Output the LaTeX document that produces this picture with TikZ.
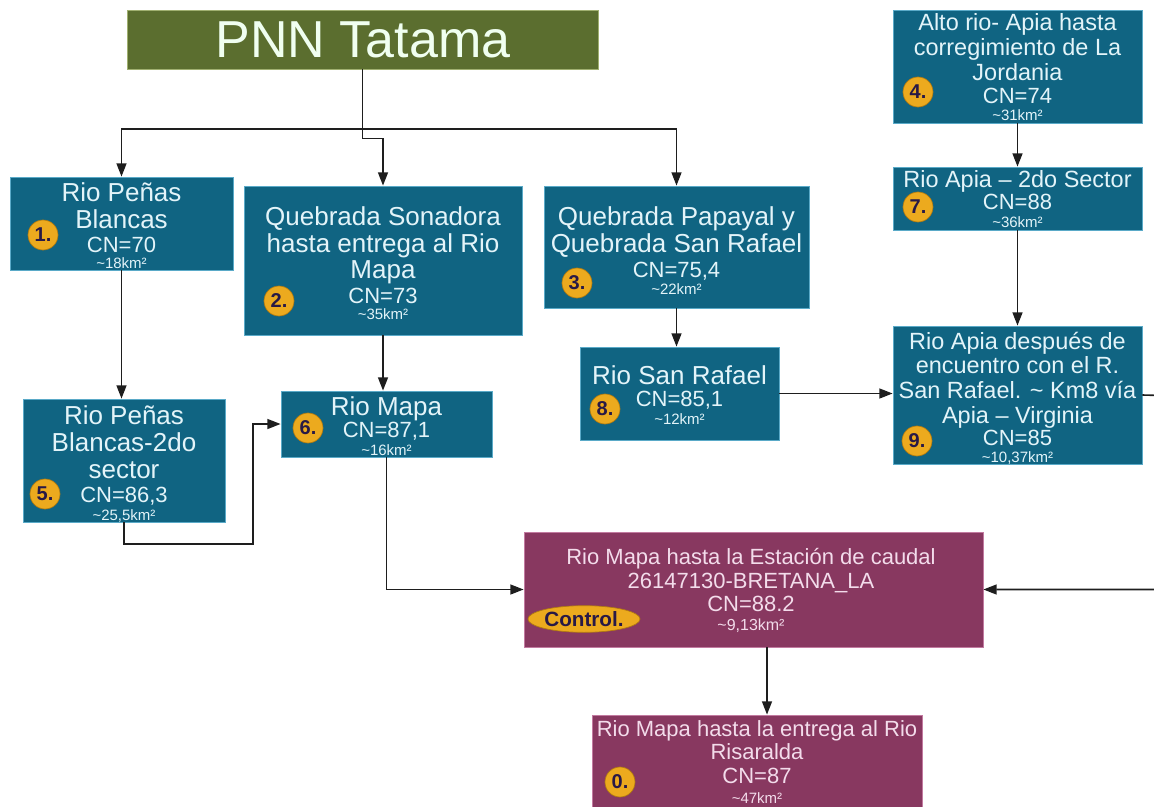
\documentclass[tikz,border=0pt]{standalone}
\usepackage{fontspec}
\setmainfont{Liberation Sans}
\usetikzlibrary{arrows.meta,calc,fit,shapes.geometric}
\definecolor{boxblue}{HTML}{106482}
\definecolor{boxblueedge}{HTML}{5AAAC8}
\definecolor{boxmaroon}{HTML}{883860}
\definecolor{boxmaroonedge}{HTML}{C27AA0}
\definecolor{titlegreen}{HTML}{5B6E2F}
\definecolor{titleedge}{HTML}{A0B070}
\definecolor{badgegold}{HTML}{ECAA1E}
\definecolor{badgeedge}{HTML}{B07A10}
\definecolor{badgetext}{HTML}{281946}
\definecolor{bluetext}{HTML}{E3F4F9}
\definecolor{maroontext}{HTML}{F3DCEB}
\definecolor{linecol}{HTML}{1E1E1E}
\begin{document}
\begin{tikzpicture}[x=0.75pt,y=-0.75pt,
  bluebox/.style={fill=boxblue,draw=boxblueedge,line width=0.6pt,inner sep=0pt},
  redbox/.style={fill=boxmaroon,draw=boxmaroonedge,line width=0.6pt,inner sep=0pt},
  titlebox/.style={fill=titlegreen,draw=titleedge,line width=0.6pt,inner sep=0pt},
  tA/.style={font=\fontsize{19.5pt}{20pt}\selectfont,text=bluetext,anchor=base,yshift=-7pt,inner sep=0pt},
  tB/.style={font=\fontsize{17.6pt}{18pt}\selectfont,text=bluetext,anchor=base,yshift=-6.3pt,inner sep=0pt},
  tC/.style={font=\fontsize{16.5pt}{17pt}\selectfont,text=bluetext,anchor=base,yshift=-5.9pt,inner sep=0pt},
  tK/.style={font=\fontsize{11.25pt}{12pt}\selectfont,text=bluetext,anchor=base,yshift=-4pt,inner sep=0pt},
  rC/.style={tC,text=maroontext},
  rK/.style={tK,text=maroontext},
  badge/.style={circle,fill=badgegold,draw=badgeedge,line width=0.5pt,minimum size=22.5pt,inner sep=0pt,
    text=badgetext,font=\bfseries\fontsize{15pt}{15pt}\selectfont},
  ctrlbadge/.style={ellipse,fill=badgegold,draw=badgeedge,line width=0.5pt,minimum width=71pt,minimum height=20pt,inner sep=0pt,
    text=badgetext,font=\bfseries\fontsize{15.5pt}{16pt}\selectfont},
  arr/.style={draw=linecol,line width=1.2pt,-{Triangle[length=10pt,width=7.5pt]}},
  ln/.style={draw=linecol,line width=1.2pt}
]
\useasboundingbox (0,0) rectangle (1154,807);

% ---- boxes ----
\node[titlebox,fit={(127,10) (598,69)}] (title) {};
\node[bluebox,fit={(10,177) (233,270)}] (b1) {};
\node[bluebox,fit={(244,186) (522,335)}] (b2) {};
\node[bluebox,fit={(544,186) (809,308)}] (b3) {};
\node[bluebox,fit={(893,10) (1142,123)}] (b4) {};
\node[bluebox,fit={(893,167) (1142,230)}] (b7) {};
\node[bluebox,fit={(893,326) (1142,464)}] (b9) {};
\node[bluebox,fit={(580,347) (779,440)}] (b8) {};
\node[bluebox,fit={(281,391) (492,457)}] (b6) {};
\node[bluebox,fit={(23,399) (225,522)}] (b5) {};
\node[redbox,fit={(524,532) (983,647)}] (ctrl) {};
\node[redbox,fit={(592,715) (922,830)}] (b0) {};

% ---- title ----
\node[font=\fontsize{39pt}{40pt}\selectfont,text=white!94!green,anchor=base,yshift=-14pt,inner sep=0pt] (ttl) at (363,39) {PNN Tatama};

% ---- box 1 ----
\node[tA] (b1l1) at (121.5,192) {Rio Peñas};
\node[tA] (b1l2) at (121.5,219) {Blancas};
\node[tC] (b1cn) at (121.5,245) {CN=70};
\node[tK] (b1km) at (121.5,263) {\textasciitilde18km²};
\node[badge] (g1) at (43,235) {1.};

% ---- box 2 ----
\node[tA] (b2l1) at (383,216) {Quebrada Sonadora};
\node[tA] (b2l2) at (383,243) {hasta entrega al Rio};
\node[tA] (b2l3) at (383,269) {Mapa};
\node[tC] (b2cn) at (383,296) {CN=73};
\node[tK] (b2km) at (383,314) {\textasciitilde35km²};
\node[badge] (g2) at (279,301) {2.};

% ---- box 3 ----
\node[tA] (b3l1) at (676.5,216) {Quebrada Papayal y};
\node[tA] (b3l2) at (676.5,243) {Quebrada San Rafael};
\node[tC] (b3cn) at (676.5,270) {CN=75,4};
\node[tK] (b3km) at (676.5,289) {\textasciitilde22km²};
\node[badge] (g3) at (577,283) {3.};

% ---- box 4 ----
\node[tB] (b4l1) at (1017.5,22) {Alto rio- Apia hasta};
\node[tB] (b4l2) at (1017.5,47) {corregimiento de La};
\node[tB] (b4l3) at (1017.5,72) {Jordania};
\node[tC] (b4cn) at (1017.5,96) {CN=74};
\node[tK] (b4km) at (1017.5,115) {\textasciitilde31km²};
\node[badge] (g4) at (918,92) {4.};

% ---- box 7 ----
\node[tB] (b7l1) at (1017.5,179) {Rio Apia – 2do Sector};
\node[tC] (b7cn) at (1017.5,202) {CN=88};
\node[tK] (b7km) at (1017.5,222) {\textasciitilde36km²};
\node[badge] (g7) at (918,207) {7.};

% ---- box 9 ----
\node[tB] (b9l1) at (1017.5,341) {Rio Apia después de};
\node[tB] (b9l2) at (1017.5,365) {encuentro con el R.};
\node[tB] (b9l3) at (1017.5,390) {San Rafael. \textasciitilde\ Km8 vía};
\node[tB] (b9l4) at (1017.5,415) {Apia – Virginia};
\node[tC] (b9cn) at (1017.5,438) {CN=85};
\node[tK] (b9km) at (1017.5,457) {\textasciitilde10,37km²};
\node[badge] (g9) at (917,441) {9.};

% ---- box 8 ----
\node[tA] (b8l1) at (679.5,375) {Rio San Rafael};
\node[tC] (b8cn) at (679.5,399) {CN=85,1};
\node[tK] (b8km) at (679.5,419) {\textasciitilde12km²};
\node[badge] (g8) at (605,409) {8.};

% ---- box 6 ----
\node[tA] (b6l1) at (386.5,406) {Rio Mapa};
\node[tC] (b6cn) at (386.5,430) {CN=87,1};
\node[tK] (b6km) at (386.5,450) {\textasciitilde16km²};
\node[badge] (g6) at (308,428) {6.};

% ---- box 5 ----
\node[tA] (b5l1) at (124,415) {Rio Peñas};
\node[tA] (b5l2) at (124,442) {Blancas-2do};
\node[tA] (b5l3) at (124,469) {sector};
\node[tC] (b5cn) at (124,495) {CN=86,3};
\node[tK] (b5km) at (124,515) {\textasciitilde25,5km²};
\node[badge] (g5) at (45,494) {5.};

% ---- control box ----
\node[rC] (cl1) at (751,557) {Rio Mapa hasta la Estación de caudal};
\node[rC] (cl2) at (751,581) {26147130-BRETANA\_LA};
\node[rC] (ccn) at (751,604) {CN=88.2};
\node[rK,font=\fontsize{12pt}{12pt}\selectfont] (ckm) at (751,625) {\textasciitilde9,13km²};
\node[ctrlbadge] (gc) at (584,619) {Control.};

% ---- box 0 ----
\node[rC] (b0l1) at (757,729) {Rio Mapa hasta la entrega al Rio};
\node[rC] (b0l2) at (757,752) {Risaralda};
\node[rC] (b0cn) at (757,776) {CN=87};
\node[rK] (b0km) at (757,798) {\textasciitilde47km²};
\node[badge] (g0) at (620,782) {0.};

% ---- connectors ----
\coordinate (br) at (363,129);
\draw[arr] (title.south) |- ($(b2.north)+(0,-47)$) -- (b2.north);
\draw[arr] (br) -| (b1.north);
\draw[arr] (br) -| (b3.north);
\draw[arr] (b1.south) -- (b1.south |- b5.north);
\coordinate (j5) at (253,544);
\draw[arr] (b5.south) |- (j5) |- (b6.west);
\draw[arr] (b2.south) -- (b2.south |- b6.north);
\draw[arr] (b6.south) |- (ctrl.west);
\draw[arr] (b3.south) -- (b3.south |- b8.north);
\draw[arr] (b8.east) -- (b8.east -| b9.west);
\draw[arr] (b4.south) -- (b7.north);
\draw[arr] (b7.south) -- (b9.north);
\coordinate (jr) at (1180,396);
\draw[arr] (b9.east) -- (jr) |- (ctrl.east);
\coordinate (cs) at (767,647);
\draw[arr] (cs) -- (cs |- b0.north);
\end{tikzpicture}
\end{document}
